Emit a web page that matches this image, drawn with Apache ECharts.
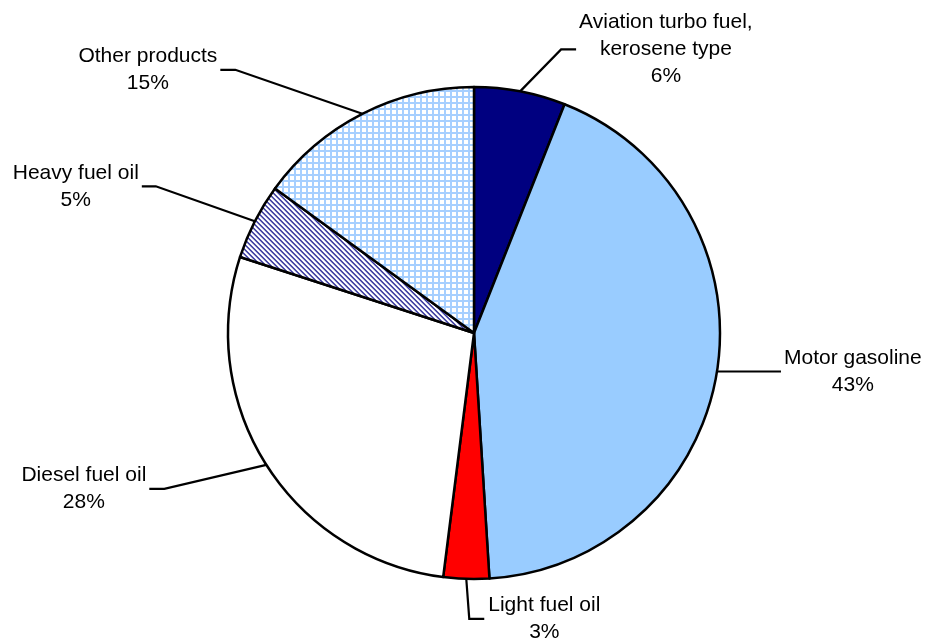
<!DOCTYPE html>
<html>
<head>
<meta charset="utf-8">
<script src="https://cdn.jsdelivr.net/npm/echarts@6/dist/echarts.min.js"></script>
<style>
html, body { margin: 0; padding: 0; background: #ffffff; }
#chart { width: 928px; height: 644px; }
</style>
</head>
<body>
<div id="chart"></div>
<script>
// ---- data ----
const categories = [
  'Aviation turbo fuel,\nkerosene type',
  'Motor gasoline',
  'Light fuel oil',
  'Diesel fuel oil',
  'Heavy fuel oil',
  'Other products'
];
const values = [6, 43, 3, 28, 5, 15];

// ---- styles ----
function makeStripePattern() {
  const size = 5;
  const c = document.createElement('canvas');
  c.width = size; c.height = size;
  const ctx = c.getContext('2d');
  ctx.fillStyle = '#ffffff';
  ctx.fillRect(0, 0, size, size);
  for (let x = 0; x < size; x++) {
    for (let y = 0; y < size; y++) {
      const k = (((x - y) % size) + size) % size;
      if (k === 0) { ctx.fillStyle = '#3a3a9c'; ctx.fillRect(x, y, 1, 1); }
      else if (k === 1) { ctx.fillStyle = '#6a6ab8'; ctx.fillRect(x, y, 1, 1); }
      else if (k === 4) { ctx.fillStyle = '#b8b8e0'; ctx.fillRect(x, y, 1, 1); }
    }
  }
  return { image: c, repeat: 'repeat' };
}
function makeGridPattern() {
  const size = 6;
  const c = document.createElement('canvas');
  c.width = size; c.height = size;
  const ctx = c.getContext('2d');
  ctx.fillStyle = '#ffffff';
  ctx.fillRect(0, 0, size, size);
  ctx.fillStyle = '#a6cfff';
  ctx.fillRect(0, 0, 2, size);
  ctx.fillRect(0, 0, size, 2);
  return { image: c, repeat: 'repeat' };
}
const sliceColors = ['#000080', '#99ccff', '#ff0000', '#ffffff', makeStripePattern(), makeGridPattern()];

// leader line layout per slice: elbow offset from slice edge, side (+1 right, -1 left)
const leaderLayout = [
  { elbow: [41, -42], side: 1, tail: 15, gap: 3 },
  { elbow: [49, 0], side: 1, tail: 15, gap: 3 },
  { elbow: [3, 40], side: 1, tail: 15, gap: 4 },
  { elbow: [-102, 24], side: -1, tail: 15, gap: 3 },
  { elbow: [-99, -35], side: -1, tail: 14, gap: 3 },
  { elbow: [-127, -44], side: -1, tail: 15, gap: 3 }
];

const chart = echarts.init(document.getElementById('chart'), null, { renderer: 'canvas' });
chart.setOption({
  animation: false,
  backgroundColor: '#ffffff',
  series: [{
    type: 'pie',
    center: [474, 333],
    radius: 246,
    startAngle: 90,
    clockwise: true,
    avoidLabelOverlap: false,
    percentPrecision: 0,
    data: categories.map((name, i) => ({
      name: name,
      value: values[i],
      itemStyle: { color: sliceColors[i] }
    })),
    itemStyle: { borderColor: '#000000', borderWidth: 2.5 },
    emphasis: { disabled: true },
    label: {
      show: true,
      position: 'outside',
      formatter: '{b}\n{d}%',
      color: '#000000',
      fontFamily: 'Liberation Sans, Arial, Helvetica, sans-serif',
      fontSize: 21,
      lineHeight: 27,
      align: 'center'
    },
    labelLine: {
      show: true,
      length: 20,
      length2: 15,
      lineStyle: { color: '#000000', width: 2.2 }
    },
    labelLayout: function (params) {
      const cfg = leaderLayout[params.dataIndex];
      const p0 = params.labelLinePoints[0];
      const elbow = [p0[0] + cfg.elbow[0], p0[1] + cfg.elbow[1]];
      const end = [elbow[0] + cfg.side * cfg.tail, elbow[1]];
      const w = params.labelRect.width;
      return {
        x: end[0] + cfg.side * (cfg.gap + w / 2),
        y: end[1],
        align: 'center',
        verticalAlign: 'middle',
        labelLinePoints: [p0, elbow, end]
      };
    }
  }]
});
</script>
</body>
</html>
